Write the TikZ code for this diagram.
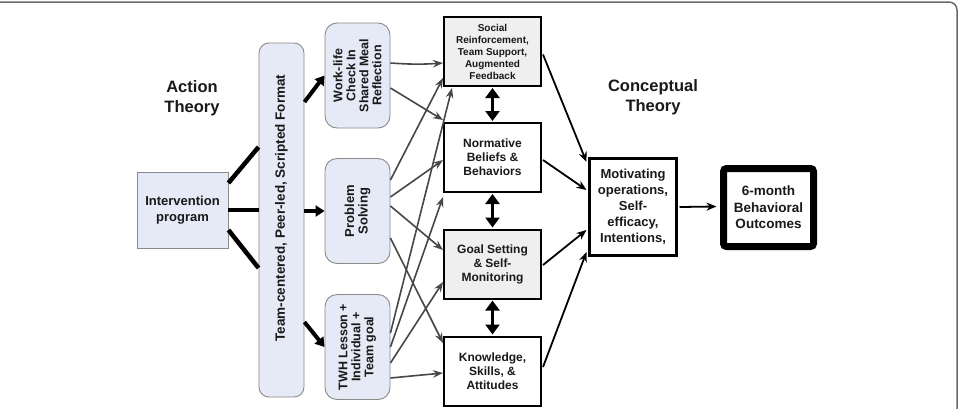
\documentclass[tikz,border=0pt]{standalone}
\usepackage{fontspec}
\setmainfont{Liberation Sans}
\usetikzlibrary{arrows.meta,calc}
\definecolor{lav}{HTML}{E6E9F6}
\definecolor{lgray}{HTML}{EFEFEF}
\definecolor{edgegray}{HTML}{8A8A8A}
\definecolor{arrgray}{HTML}{474747}
\definecolor{framegray}{HTML}{6A6A6A}
\begin{document}
\begin{tikzpicture}[x=1pt,y=-1pt,
  every node/.style={inner sep=0pt, align=center, text=black!90},
  lavbox/.style={draw=edgegray, fill=lav, line width=0.9pt},
  sidebox/.style={lavbox, rounded corners=12pt, minimum width=65pt, minimum height=105pt},
  midbox/.style={draw=black, line width=2pt, minimum width=97pt, minimum height=69pt,
     font=\fontsize{12}{14}\selectfont\bfseries},
  thickline/.style={line width=4.5pt, black},
  thickarr/.style={line width=4pt, black, -{Triangle[length=9pt,width=11pt]}},
  grayarr/.style={line width=1.6pt, arrgray, -{Stealth[length=10pt,width=7.5pt]}},
  blackarr/.style={line width=1.8pt, black, -{Stealth[length=10pt,width=8pt]}},
  dblarr/.style={line width=2.5pt, black, {Triangle[length=10pt,width=14pt]}-{Triangle[length=10pt,width=14pt]}},
  theory/.style={font=\fontsize{16.5}{20}\selectfont\bfseries}
]
\useasboundingbox (0,0) rectangle (959,408);
\fill[white] (0,0) rectangle (959,408);
% frame
\draw[framegray, line width=1.5pt, rounded corners=8pt] (-2,2) -- (957,2) -- (957,410);

% titles
\node[theory] (acttitle) at (192,98) {Action\\Theory};
\node[theory] (contitle) at (653,97) {Conceptual\\Theory};

% intervention
\node[lavbox, minimum width=91pt, minimum height=76pt, font=\fontsize{13}{16}\selectfont\bfseries] (interv) at (182.5,210) {Intervention\\program};

% bar
\node[lavbox, rounded corners=10pt, minimum width=45pt, minimum height=354pt] (bar) at (281.5,220) {};
\node[rotate=90, font=\fontsize{13.5}{16}\selectfont\bfseries] (bartxt) at ([yshift=12pt]bar.center) {Team-centered, Peer-led, Scripted Format};

% side boxes
\node[sidebox] (wl) at (357.5,75.5) {};
\node[rotate=90, font=\fontsize{12.5}{13}\selectfont\bfseries] (wltxt) at (wl.center) {Work-life\\Check In\\Shared Meal\\Reflection};
\node[sidebox] (ps) at (357.5,211) {};
\node[rotate=90, font=\fontsize{13}{13.5}\selectfont\bfseries] (pstxt) at (ps.center) {Problem\\Solving};
\node[sidebox] (twh) at (357.5,347) {};
\node[rotate=90, font=\fontsize{12.5}{13}\selectfont\bfseries] (twhtxt) at (twh.center) {TWH Lesson +\\Individual +\\Team goal};

% middle boxes
\node[midbox, fill=lgray, font=\fontsize{10}{12}\selectfont\bfseries] (soc) at (492.5,51.5) {Social\\Reinforcement,\\Team Support,\\Augmented\\Feedback};
\node[midbox, fill=white] (norm) at (492.5,157.5) {Normative\\Beliefs \&\\Behaviors};
\node[midbox, fill=lgray] (goal) at (492.5,264) {Goal Setting\\\& Self-\\Monitoring};
\node[midbox, fill=white] (know) at (492.5,371) {Knowledge,\\Skills, \&\\Attitudes};

% motivating and outcomes
\node[draw=black, line width=3pt, fill=white, minimum width=87pt, minimum height=97pt, font=\fontsize{13}{16}\selectfont\bfseries] (motiv) at (633,207) {Motivating\\operations,\\Self-\\efficacy,\\Intentions,};
\node[draw=black, line width=7pt, rounded corners=3pt, fill=white, minimum width=90pt, minimum height=78pt, font=\fontsize{13.5}{16.5}\selectfont\bfseries] (six) at (768.5,207.5) {6-month\\Behavioral\\Outcomes};

% intervention -> bar
\draw[thickline] ([yshift=27pt]interv.east) -- ([yshift=73pt]bar.west);
\draw[thickline] (interv.east) -- ([yshift=10pt]bar.west);
\draw[thickline] ([yshift=-20pt]interv.east) -- ([yshift=-48pt]bar.west);

% bar -> side boxes
\draw[thickarr] ([yshift=118pt]bar.east) -- (wl.west);
\draw[thickarr] ([yshift=9pt]bar.east) -- (ps.west);
\draw[thickarr] ([yshift=-102pt]bar.east) -- (twh.west);

% side boxes -> middle boxes
\draw[grayarr] ([yshift=12.5pt]wl.east) to[bend right=4] ([yshift=-11.5pt]soc.west);
\draw[grayarr] ([yshift=-12.5pt]wl.east) -- ([yshift=2pt]norm.north west);
\draw[grayarr] ([yshift=31pt]ps.east) -- ([yshift=-26.5pt]soc.west);
\draw[grayarr] ([yshift=14pt]ps.east) -- ([yshift=-2.5pt]norm.west);
\draw[grayarr] ([yshift=5pt]ps.east) -- ([yshift=14pt]goal.west);
\draw[grayarr] ([yshift=-27pt]ps.east) -- ([yshift=28pt]know.west);
\draw[grayarr] ([yshift=14pt]twh.east) -- ([xshift=9pt,yshift=-1pt]soc.south west);
\draw[grayarr] (twh.east) -- ([yshift=-4pt]norm.south west);
\draw[grayarr] ([yshift=-16pt]twh.east) -- ([yshift=-18pt]goal.west);
\draw[grayarr] ([yshift=-31pt]twh.east) -- ([yshift=-2pt]know.west);

% double arrows
\draw[dblarr] ([yshift=-1pt]soc.south) -- ([yshift=1pt]norm.north);
\draw[dblarr] ([yshift=-1pt]norm.south) -- ([yshift=1pt]goal.north);
\draw[dblarr] ([yshift=-1pt]goal.south) -- ([yshift=1pt]know.north);

% middle -> motivating
\draw[blackarr] ([xshift=1pt,yshift=-3pt]soc.east) -- ([xshift=-1.5pt,yshift=45pt]motiv.west);
\draw[blackarr] ([xshift=1pt,yshift=-2.5pt]norm.east) -- ([xshift=-1.5pt,yshift=17pt]motiv.west);
\draw[blackarr] ([xshift=1pt,yshift=-1pt]goal.east) -- ([xshift=-1.5pt,yshift=-23pt]motiv.west);
\draw[blackarr] ([xshift=1pt,yshift=4pt]know.east) -- ([xshift=-1.5pt,yshift=-45pt]motiv.west);

% motivating -> outcomes
\draw[blackarr] ([xshift=1.5pt]motiv.east) -- ([xshift=-3.5pt,yshift=1pt]six.west);
\end{tikzpicture}
\end{document}
